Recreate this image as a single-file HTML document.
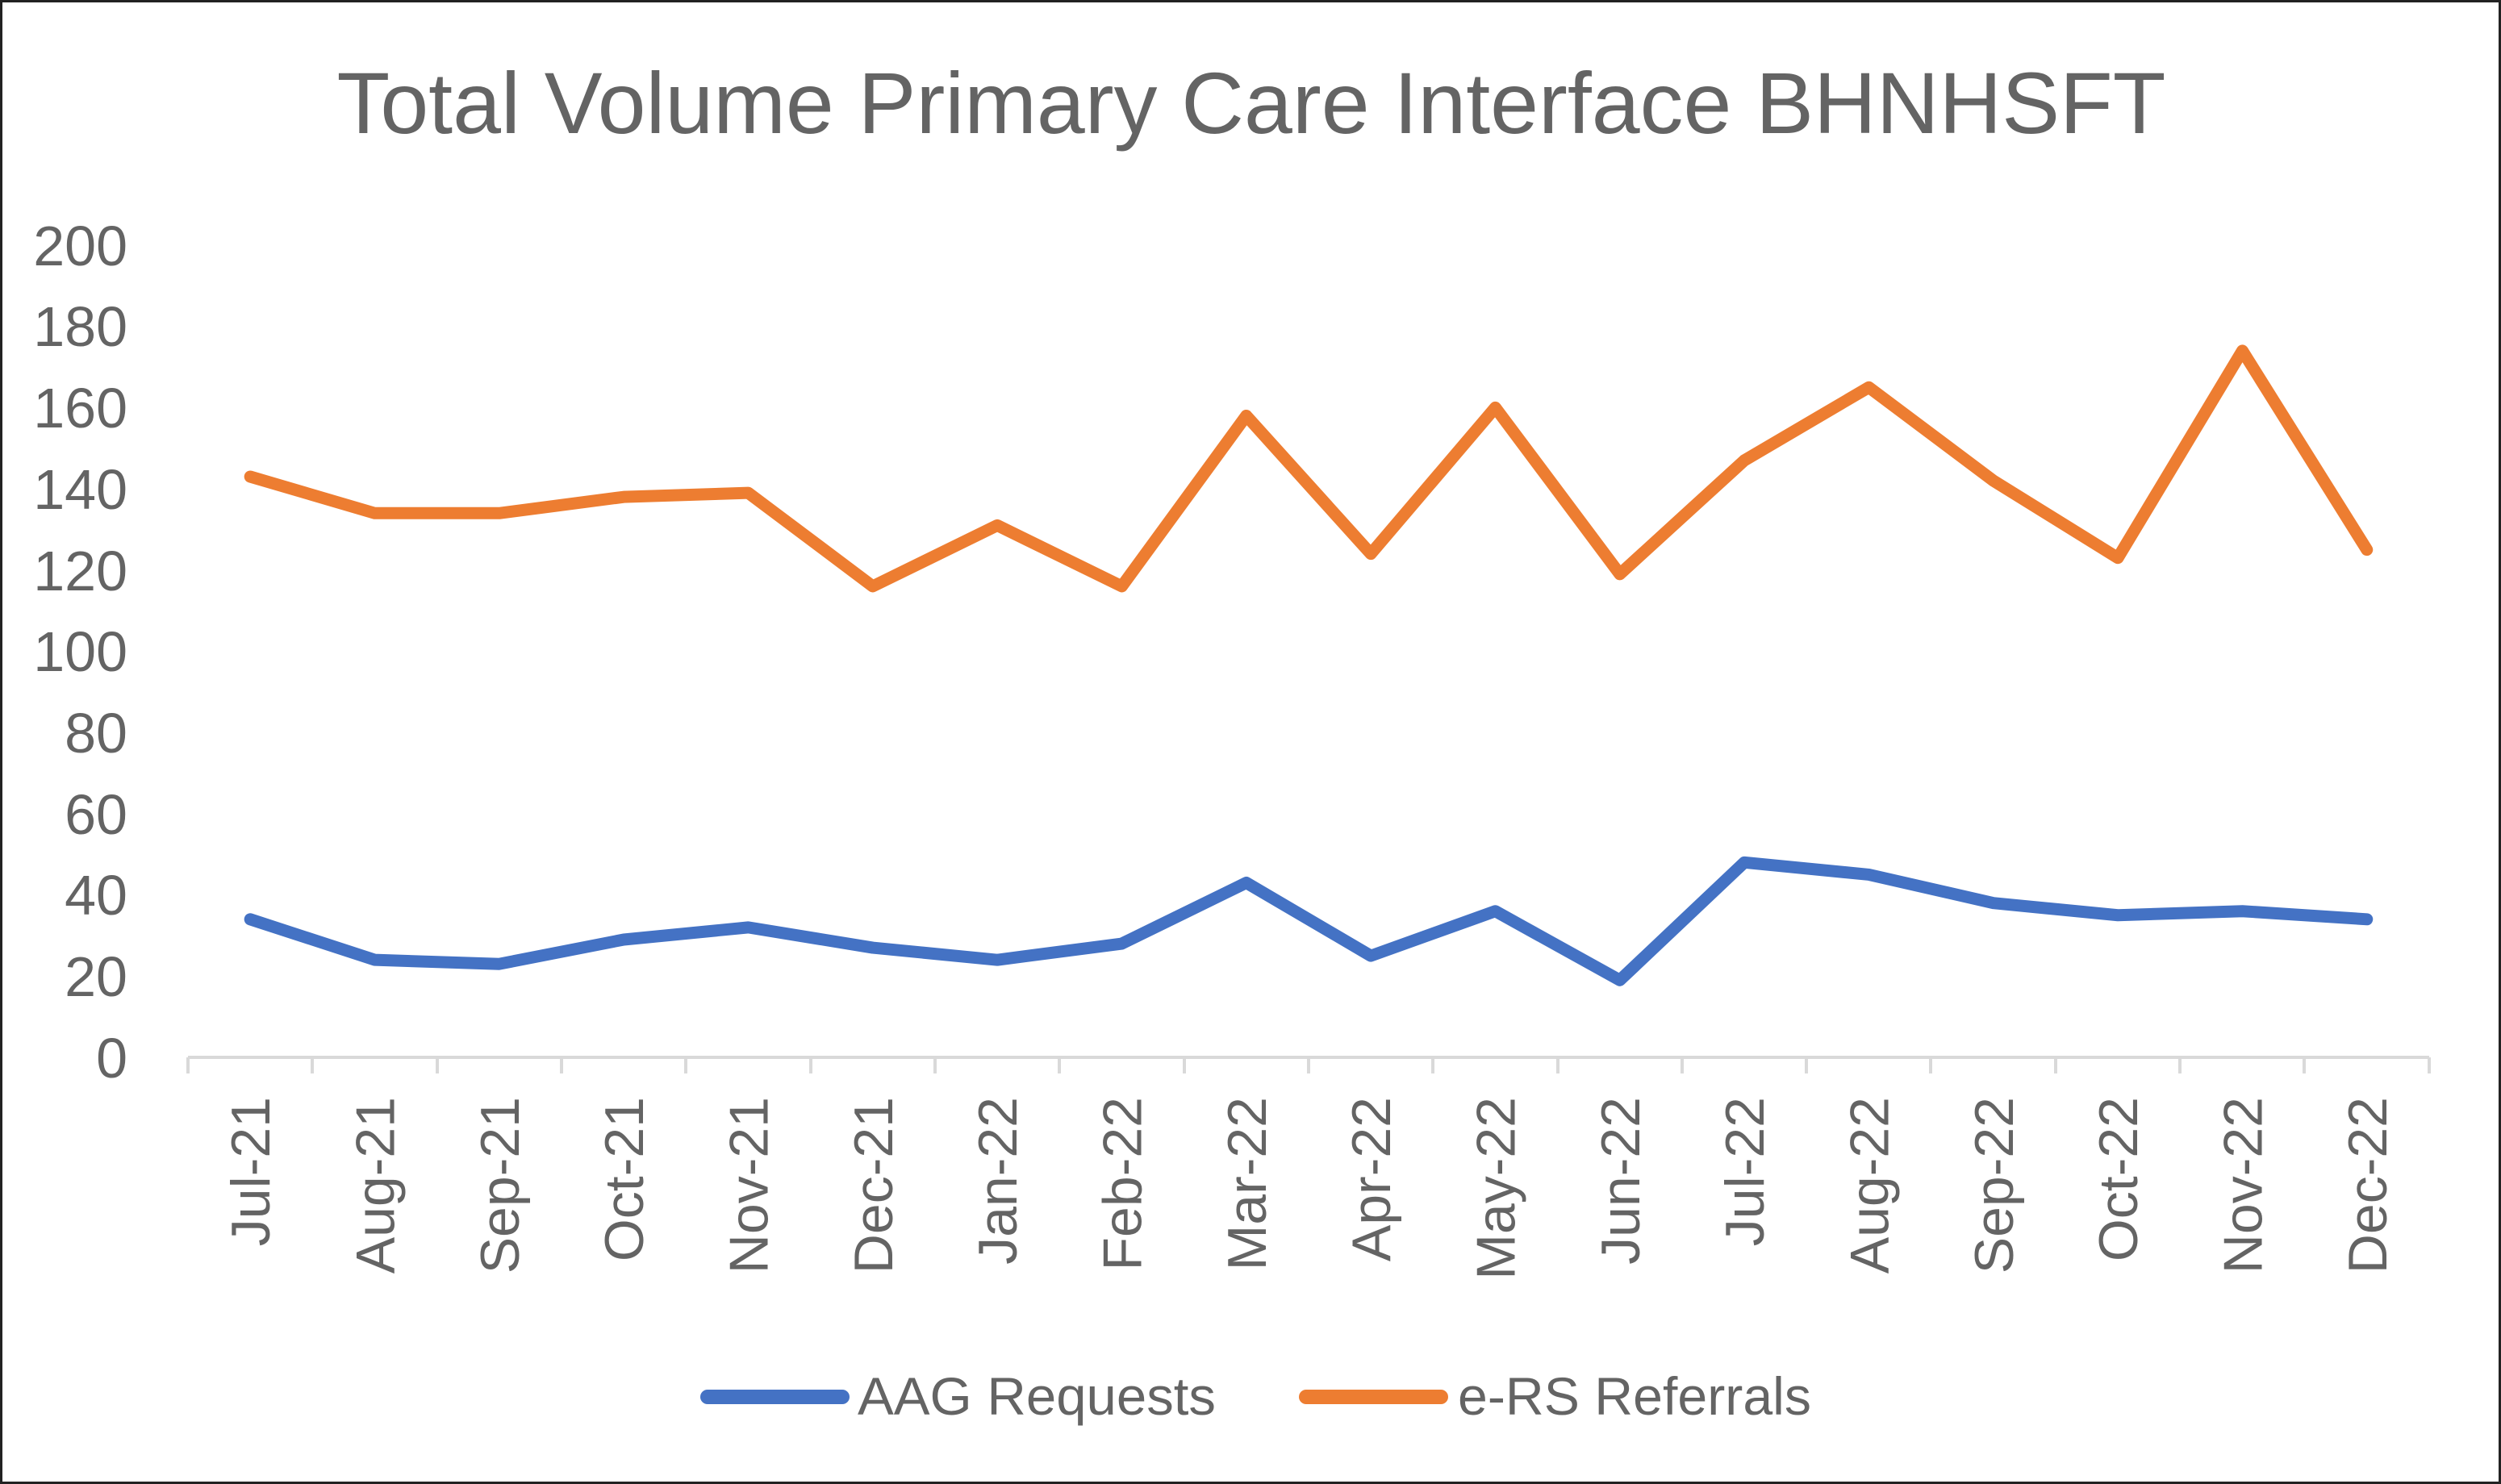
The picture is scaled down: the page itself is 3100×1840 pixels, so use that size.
<!DOCTYPE html>
<html><head><meta charset="utf-8"><style>
html,body{margin:0;padding:0;background:#fff;}
svg{display:block;}
text{font-family:"Liberation Sans",sans-serif;fill:#646464;}
</style></head><body>
<svg width="3100" height="1840" viewBox="0 0 3100 1840" xmlns="http://www.w3.org/2000/svg">
<rect x="1.5" y="1.5" width="3097" height="1837" fill="#fff" stroke="#222" stroke-width="3"/>
<text x="1551" y="165" font-size="108" text-anchor="middle" textLength="2267" lengthAdjust="spacingAndGlyphs">Total Volume Primary Care Interface BHNHSFT</text>
<g font-size="70" text-anchor="end">
<text x="158" y="1336">0</text>
<text x="158" y="1235">20</text>
<text x="158" y="1134">40</text>
<text x="158" y="1034">60</text>
<text x="158" y="933">80</text>
<text x="158" y="832">100</text>
<text x="158" y="732">120</text>
<text x="158" y="631">140</text>
<text x="158" y="530">160</text>
<text x="158" y="429">180</text>
<text x="158" y="329">200</text>
</g>
<g stroke="#d9d9d9" stroke-width="4" fill="none">
<line x1="233" y1="1311" x2="3011" y2="1311"/>
<path d="M233 1311v20M387 1311v20M542 1311v20M696 1311v20M850 1311v20M1005 1311v20M1159 1311v20M1313 1311v20M1468 1311v20M1622 1311v20M1776 1311v20M1931 1311v20M2085 1311v20M2239 1311v20M2393 1311v20M2548 1311v20M2702 1311v20M2856 1311v20M3011 1311v20"/>
</g>
<g font-size="68" text-anchor="end" id="xl"></g>
<polyline id="org" fill="none" stroke="#ED7D31" stroke-width="15" stroke-linejoin="round" stroke-linecap="round" points=""/>
<polyline id="blu" fill="none" stroke="#4472C4" stroke-width="15" stroke-linejoin="round" stroke-linecap="round" points=""/>
<line x1="877" y1="1732" x2="1044" y2="1732" stroke="#4472C4" stroke-width="18" stroke-linecap="round"/>
<text x="1063" y="1754" font-size="66" textLength="444" lengthAdjust="spacingAndGlyphs">AAG Requests</text>
<line x1="1619" y1="1732" x2="1786" y2="1732" stroke="#ED7D31" stroke-width="18" stroke-linecap="round"/>
<text x="1807" y="1754" font-size="66" textLength="438" lengthAdjust="spacingAndGlyphs">e-RS Referrals</text>
</svg>
<script>
var o=[143,134,134,138,139,116,131,116,158,124,160,119,147,165,142,123,174,125];
var b=[34,24,23,29,32,27,24,28,43,25,36,19,48,45,38,35,36,34];
var L=["Jul-21","Aug-21","Sep-21","Oct-21","Nov-21","Dec-21","Jan-22","Feb-22","Mar-22","Apr-22","May-22","Jun-22","Jul-22","Aug-22","Sep-22","Oct-22","Nov-22","Dec-22"];
function X(i){return 233+154.33*(i+0.5);}
function Y(v){return 1311-v*5.035;}
document.getElementById('org').setAttribute('points',o.map(function(v,i){return X(i)+','+Y(v)}).join(' '));
document.getElementById('blu').setAttribute('points',b.map(function(v,i){return X(i)+','+Y(v)}).join(' '));
var g=document.getElementById('xl'),ns="http://www.w3.org/2000/svg";
L.forEach(function(s,i){var t=document.createElementNS(ns,'text');var x=X(i)+24,y=1360;
t.setAttribute('x',x);t.setAttribute('y',y);t.setAttribute('transform','rotate(-90 '+x+' '+y+')');t.textContent=s;g.appendChild(t);});
</script>
</body></html>
